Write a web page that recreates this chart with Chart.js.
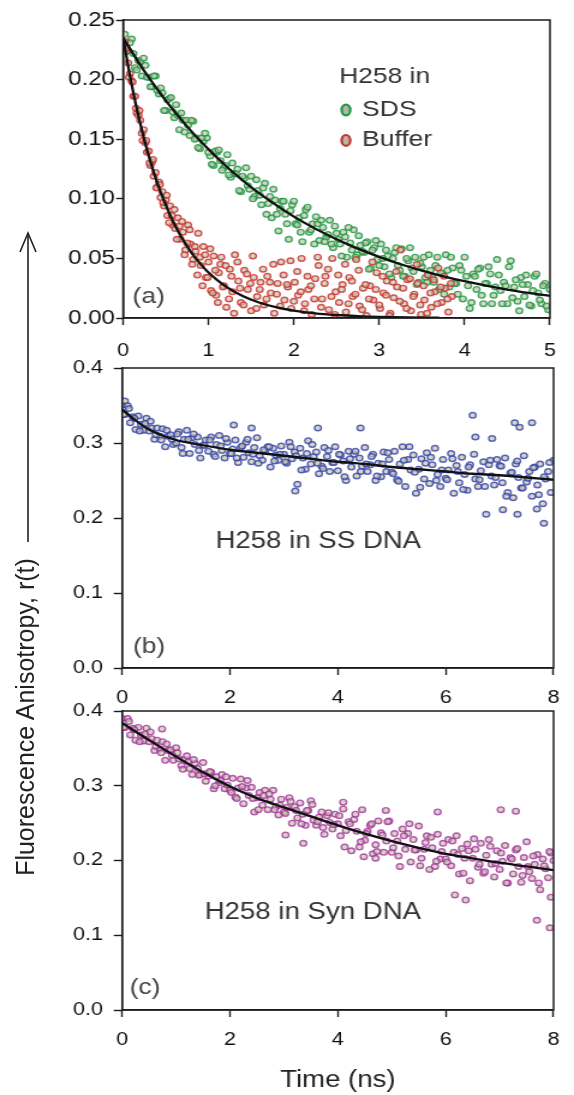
<!DOCTYPE html>
<html>
<head>
<meta charset="utf-8">
<title>H258 fluorescence anisotropy decays</title>
<script src="https://cdn.jsdelivr.net/npm/chart.js"></script>
<style>
    body { margin: 0; background: #fff; width: 574px; height: 1095px; position: relative; overflow: hidden; }
    canvas { position: absolute; left: 0; }
    #yTitle {
        position: absolute; left: 25px; top: 717px;
        transform: translate(-50%, -50%) rotate(-90deg);
        font: 25px 'Liberation Sans', Arial, sans-serif; color: #222; white-space: nowrap;
    }
    #arrow { position: absolute; left: 0; top: 0; }
</style>
</head>
<body>
<!-- canvases are drawn 478px wide and stretched to 574px, like the original figure -->
<canvas id="panelA" width="478" height="365" style="top:0;width:574px;height:365px"></canvas>
<canvas id="panelB" width="478" height="380" style="top:340px;width:574px;height:380px"></canvas>
<canvas id="panelC" width="478" height="405" style="top:690px;width:574px;height:405px"></canvas>
<svg id="arrow" width="60" height="560">
    <line x1="28" y1="542" x2="28" y2="233" stroke="#222" stroke-width="1.6"/>
    <polyline points="20,252 28,233 36,252" fill="none" stroke="#222" stroke-width="1.6"/>
</svg>
<div id="yTitle">Fluorescence Anisotropy, r(t)</div>
<script>
// ---- panel (a): H258 in SDS / Buffer, time (ns) vs r(t)
const sdsPoints = [
    [0.02,.238],[0.06,.224],[0.10,.234],[0.14,.210],[0.18,.216],[0.22,.203],[0.26,.212],[0.30,.202],[0.34,.194],[0.38,.203],
    [0.42,.188],[0.46,.189],[0.50,.174],[0.54,.184],[0.58,.173],[0.62,.179],[0.66,.158],[0.70,.166],[0.74,.166],[0.78,.153],
    [0.82,.165],[0.86,.151],[0.90,.142],[0.94,.148],[0.98,.151],[1.02,.136],[1.06,.128],[1.10,.139],[1.14,.132],[1.18,.126],
    [1.22,.137],[1.26,.118],[1.30,.121],[1.34,.125],[1.38,.106],[1.42,.117],[1.46,.111],[1.50,.119],[1.54,.102],[1.58,.107],
    [1.62,.095],[1.66,.113],[1.70,.096],[1.74,.084],[1.78,.099],[1.82,.073],[1.86,.098],[1.90,.087],[1.94,.066],[1.98,.095],
    [2.02,.079],[2.06,.084],[2.10,.064],[2.14,.091],[2.18,.072],[2.22,.079],[2.26,.085],[2.30,.065],[2.34,.076],[2.38,.068],
    [2.42,.082],[2.46,.059],[2.50,.071],[2.54,.062],[2.58,.072],[2.62,.051],[2.66,.063],[2.70,.074],[2.74,.053],[2.78,.061],
    [2.82,.055],[2.86,.064],[2.90,.042],[2.94,.059],[2.98,.049],[3.02,.062],[3.06,.043],[3.10,.052],[3.14,.034],[3.18,.055],
    [3.22,.044],[3.26,.058],[3.30,.035],[3.34,.048],[3.38,.042],[3.42,.051],[3.46,.030],[3.50,.043],[3.54,.034],[3.58,.053],
    [3.62,.034],[3.66,.044],[3.70,.024],[3.74,.037],[3.78,.053],[3.82,.026],[3.86,.042],[3.90,.029],[3.94,.044],[3.98,.016],
    [4.02,.035],[4.06,.008],[4.10,.037],[4.14,.024],[4.18,.042],[4.22,.012],[4.26,.029],[4.30,.037],[4.34,.019],[4.38,.049],
    [4.42,.023],[4.46,.030],[4.50,.012],[4.54,.048],[4.58,.026],[4.62,.014],[4.66,.034],[4.70,.018],[4.74,.028],[4.78,.010],
    [4.82,.035],[4.86,.021],[4.90,.012],[4.94,.029],[4.98,.007],
    [0.04,.226],[0.08,.231],[0.12,.222],[0.16,.208],[0.20,.215],[0.24,.218],[0.28,.202],[0.32,.194],[0.36,.203],[0.40,.191],
    [0.44,.193],[0.48,.174],[0.52,.183],[0.56,.185],[0.60,.168],[0.64,.170],[0.68,.172],[0.72,.156],[0.76,.162],[0.80,.166],
    [0.84,.150],[0.88,.143],[0.92,.151],[0.96,.155],[1.00,.139],[1.04,.129],[1.08,.140],[1.12,.141],[1.16,.124],[1.20,.128],
    [1.24,.120],[1.28,.130],[1.32,.121],[1.36,.107],[1.40,.119],[1.44,.126],[1.48,.108],[1.52,.100],[1.56,.116],[1.60,.103],
    [1.64,.109],[1.68,.087],[1.72,.102],[1.76,.108],[1.80,.087],[1.84,.092],[1.88,.098],[1.92,.079],[1.96,.090],[2.00,.098],
    [2.04,.078],[2.08,.072],[2.12,.086],[2.16,.093],[2.20,.074],[2.24,.062],[2.28,.079],[2.32,.082],[2.36,.064],[2.40,.070],
    [2.44,.062],[2.48,.077],[2.52,.066],[2.56,.052],[2.60,.068],[2.64,.076],[2.68,.057],[2.72,.051],[2.76,.069],[2.80,.056],
    [2.84,.063],[2.88,.041],[2.92,.057],[2.96,.065],[3.00,.044],[3.04,.050],[3.08,.057],[3.12,.037],[3.16,.050],[3.20,.059],
    [3.24,.040],[3.28,.035],[3.32,.050],[3.36,.059],[3.40,.039],[3.44,.028],[3.48,.046],[3.52,.051],[3.56,.030],[3.60,.040],
    [3.64,.030],[3.68,.051],[3.72,.038],[3.76,.020],[3.80,.040],[3.84,.051],[3.88,.029],[3.92,.020],[3.96,.040],[4.00,.051],
    [4.04,.027],[4.08,.013],[4.12,.035],[4.16,.041],[4.20,.019],[4.24,.029],[4.28,.043],[4.32,.012],[4.36,.026],[4.40,.036],
    [4.44,.012],[4.48,.027],[4.52,.043],[4.56,.017],[4.60,.032],[4.64,.006],[4.68,.028],[4.72,.036],[4.76,.011],[4.80,.023],
    [4.84,.037],[4.88,.015],[4.92,.027],[4.96,.010],[5.00,.024]
];
const bufferPoints = [
    [0.02,.232],[0.04,.224],[0.06,.214],[0.08,.205],[0.10,.199],[0.12,.186],[0.14,.186],[0.16,.172],[0.18,.170],[0.20,.166],
    [0.22,.155],[0.24,.158],[0.26,.147],[0.28,.139],[0.30,.140],[0.32,.128],[0.34,.131],[0.36,.119],[0.38,.122],[0.40,.110],
    [0.42,.114],[0.44,.101],[0.46,.106],[0.48,.094],[0.50,.099],[0.52,.086],[0.55,.094],[0.58,.078],[0.61,.075],[0.64,.084],
    [0.67,.066],[0.70,.072],[0.73,.057],[0.76,.078],[0.79,.062],[0.82,.049],[0.85,.056],[0.88,.071],[0.91,.044],[0.94,.060],
    [0.97,.034],[1.00,.047],[1.03,.023],[1.06,.052],[1.09,.019],[1.12,.038],[1.15,.051],[1.18,.027],[1.21,.009],[1.25,.041],
    [1.28,.022],[1.31,.053],[1.35,.031],[1.38,.013],[1.42,.040],[1.46,.024],[1.50,.006],[1.53,.034],[1.57,.018],[1.61,.030],
    [1.65,.011],[1.69,.035],[1.73,.021],[1.77,.004],[1.81,.029],[1.85,.047],[1.89,.015],[1.93,.026],[1.97,.008],[2.01,.030],
    [2.05,.019],[2.09,.050],[2.13,.012],[2.17,.024],[2.21,.003],[2.25,.033],[2.29,.044],[2.33,.016],[2.37,.035],[2.41,.007],
    [2.45,.050],[2.49,.022],[2.53,.013],[2.57,.028],[2.61,.005],[2.65,.034],[2.69,.018],[2.73,.049],[2.77,.010],[2.81,.025],
    [2.85,.002],[2.89,.027],[2.93,.015],[2.97,.038],[3.01,.008],[3.05,.021],[3.09,.031],[3.13,.004],[3.17,.017],[3.21,.026],
    [3.25,.057],[3.29,.012],[3.33,.032],[3.37,.006],[3.41,.020],[3.45,.029],[3.49,.003],[3.53,.015],[3.57,.036],[3.61,.009],
    [3.65,.022],[3.69,.042],[3.73,.013],[3.77,.025],[3.81,.005],[3.85,.018],
    [0.03,.226],[0.07,.202],[0.11,.198],[0.15,.176],[0.19,.174],[0.23,.149],[0.27,.149],[0.31,.130],[0.35,.133],[0.39,.109],
    [0.43,.112],[0.47,.097],[0.51,.103],[0.54,.080],[0.57,.086],[0.60,.091],[0.63,.066],[0.66,.077],[0.69,.081],[0.72,.053],
    [0.75,.063],[0.78,.074],[0.81,.045],[0.84,.060],[0.87,.036],[0.90,.051],[0.93,.027],[0.96,.053],[0.99,.034],[1.02,.058],
    [1.05,.021],[1.08,.040],[1.11,.013],[1.14,.045],[1.17,.026],[1.20,.044],[1.24,.016],[1.27,.035],[1.30,.004],[1.34,.047],
    [1.37,.025],[1.41,.011],[1.45,.037],[1.49,.029],[1.52,.052],[1.56,.008],[1.60,.024],[1.64,.041],[1.68,.016],[1.72,.030],
    [1.76,.045],[1.80,.020],[1.84,.010],[1.88,.036],[1.92,.028],[1.96,.048],[2.00,.014],[2.04,.039],[2.08,.022],[2.12,.006],
    [2.16,.035],[2.20,.027],[2.24,.016],[2.28,.051],[2.32,.009],[2.36,.029],[2.40,.041],[2.44,.018],[2.48,.003],[2.52,.036],
    [2.56,.024],[2.60,.045],[2.64,.012],[2.68,.031],[2.72,.020],[2.76,.040],[2.80,.007],[2.84,.028],[2.88,.016],[2.92,.047],
    [2.96,.024],[3.00,.011],[3.04,.035],[3.08,.019],[3.12,.002],[3.16,.030],[3.20,.039],[3.24,.014],[3.28,.025],[3.32,.008],
    [3.36,.033],[3.40,.018],[3.44,.045],[3.48,.011],[3.52,.027],[3.56,.004],[3.60,.021],[3.64,.032],[3.68,.012],[3.72,.026],
    [3.76,.035],[3.80,.016],[3.84,.029]
];
const sdsFit = [
    [0,.235],[.25,.207],[.5,.1823],[.75,.1606],[1,.1415],[1.25,.1246],[1.5,.1097],[1.75,.0967],[2,.0851],[2.25,.075],
    [2.5,.0661],[2.75,.0582],[3,.0513],[3.25,.0451],[3.5,.0398],[3.75,.035],[4,.0309],[4.25,.0272],[4.5,.0239],[4.75,.0211],[5,.0186]
];
const bufferFit = [
    [0,.235],[.1,.1959],[.2,.1634],[.3,.1362],[.4,.1135],[.5,.0947],[.6,.0789],[.7,.0658],[.8,.0549],[.9,.0458],[1,.0381],
    [1.2,.0265],[1.4,.0184],[1.6,.0128],[1.8,.0089],[2,.0062],[2.25,.0039],[2.5,.0025],[2.75,.0016],[3,.001],[3.35,.0005],[3.7,.0003]
];

// ---- panel (b): H258 in SS DNA
const ssDnaPoints = [
    [0.00,.351],[0.05,.338],[0.10,.350],[0.15,.327],[0.20,.335],[0.25,.318],[0.30,.336],[0.35,.325],[0.40,.317],[0.45,.333],
    [0.50,.316],[0.55,.320],[0.60,.305],[0.65,.320],[0.70,.309],[0.75,.319],[0.80,.295],[0.85,.309],[0.90,.311],[0.95,.298],
    [1.00,.300],[1.05,.315],[1.10,.294],[1.15,.305],[1.20,.317],[1.25,.286],[1.30,.307],[1.35,.298],[1.40,.308],[1.45,.280],
    [1.50,.297],[1.55,.304],[1.60,.289],[1.65,.308],[1.70,.285],[1.75,.298],[1.80,.310],[1.85,.290],[1.90,.280],[1.95,.301],
    [2.00,.286],[2.05,.292],[2.10,.304],[2.15,.274],[2.20,.294],[2.25,.281],[2.30,.301],[2.35,.287],[2.40,.275],[2.45,.294],
    [2.50,.307],[2.55,.283],[2.60,.277],[2.65,.289],[2.70,.295],[2.75,.268],[2.80,.293],[2.85,.284],[2.90,.277],[2.95,.296],
    [3.00,.285],[3.05,.273],[3.10,.301],[3.15,.279],[3.20,.288],[3.25,.245],[3.30,.293],[3.35,.280],[3.40,.265],[3.45,.303],
    [3.50,.272],[3.55,.282],[3.60,.288],[3.65,.259],[3.70,.269],[3.75,.294],[3.80,.282],[3.85,.262],[3.90,.274],[3.95,.295],
    [4.00,.263],[4.05,.284],[4.10,.276],[4.15,.250],[4.20,.289],[4.25,.268],[4.30,.285],[4.35,.256],[4.40,.280],[4.45,.269],
    [4.50,.294],[4.55,.262],[4.60,.271],[4.65,.285],[4.70,.250],[4.75,.273],[4.80,.255],[4.85,.288],[4.90,.262],[4.95,.278],
    [5.00,.261],[5.05,.289],[5.10,.251],[5.15,.272],[5.20,.295],[5.25,.242],[5.30,.278],[5.35,.264],[5.40,.284],[5.45,.233],
    [5.50,.265],[5.55,.279],[5.60,.252],[5.65,.287],[5.70,.246],[5.75,.271],[5.80,.293],[5.85,.258],[5.90,.242],[5.95,.278],
    [6.00,.253],[6.05,.264],[6.10,.286],[6.15,.233],[6.20,.270],[6.25,.247],[6.30,.281],[6.35,.258],[6.40,.237],[6.45,.271],
    [6.50,.337],[6.55,.252],[6.60,.242],[6.65,.263],[6.70,.275],[6.75,.205],[6.80,.271],[6.85,.256],[6.90,.244],[6.95,.278],
    [7.00,.270],[7.05,.247],[7.10,.280],[7.15,.234],[7.20,.260],[7.25,.227],[7.30,.272],[7.35,.254],[7.40,.240],[7.45,.283],
    [7.50,.248],[7.55,.262],[7.60,.229],[7.65,.268],[7.70,.244],[7.75,.272],[7.80,.219],[7.85,.252],[7.90,.262],[7.95,.234],
    [8.00,.277],
    [0.025,.338],[0.125,.346],[0.225,.333],[0.325,.316],[0.425,.326],[0.525,.329],[0.625,.311],[0.725,.304],[0.825,.317],[0.925,.305],
    [1.025,.312],[1.125,.286],[1.225,.305],[1.325,.312],[1.425,.290],[1.525,.297],[1.625,.304],[1.725,.282],[1.825,.296],[1.925,.306],
    [2.025,.286],[2.125,.280],[2.225,.296],[2.325,.305],[2.425,.285],[2.525,.273],[2.625,.291],[2.725,.295],[2.825,.276],[2.925,.285],
    [3.025,.275],[3.125,.295],[3.225,.283],[3.325,.264],[3.425,.286],[3.525,.298],[3.625,.273],[3.725,.266],[3.825,.290],[3.925,.274],
    [4.025,.285],[4.125,.255],[4.225,.279],[4.325,.289],[4.425,.262],[4.525,.272],[4.625,.282],[4.725,.256],[4.825,.272],[4.925,.287],
    [5.025,.259],[5.125,.249],[5.225,.277],[5.325,.295],[5.425,.261],[5.525,.241],[5.625,.273],[5.725,.281],[5.825,.250],[5.925,.264],
    [6.025,.251],[6.125,.279],[6.225,.262],[6.325,.238],[6.425,.268],[6.525,.285],[6.625,.251],[6.725,.242],[6.825,.277],[6.925,.254],
    [7.025,.269],[7.125,.229],[7.225,.261],[7.325,.276],[7.425,.240],[7.525,.253],[7.625,.267],[7.725,.231],[7.825,.255],[7.925,.274],
    [0.05,.356],[2.07,.324],[2.40,.320],[3.63,.320],[3.21,.236],[4.42,.320],[6.55,.308],[6.86,.306],[7.28,.327],[7.37,.321],
    [7.60,.327],[7.82,.193],[7.06,.211],[7.33,.205],[7.69,.212]
];
const ssDnaFit = [
    [0,.345],[.25,.330],[.5,.318],[.75,.310],[1,.304],[1.5,.297],[2,.291],[2.5,.287],[3,.283],[3.5,.279],
    [4,.275],[4.5,.272],[5,.268],[5.5,.265],[6,.262],[6.5,.259],[7,.257],[7.5,.254],[8,.251]
];

// ---- panel (c): H258 in Syn DNA
const synDnaPoints = [
    [0.00,.390],[0.05,.378],[0.10,.390],[0.15,.368],[0.20,.377],[0.25,.361],[0.30,.378],[0.35,.368],[0.40,.360],[0.45,.377],
    [0.50,.359],[0.55,.363],[0.60,.347],[0.65,.361],[0.70,.349],[0.75,.359],[0.80,.334],[0.85,.347],[0.90,.348],[0.95,.334],
    [1.00,.351],[1.05,.336],[1.10,.327],[1.15,.335],[1.20,.340],[1.25,.323],[1.30,.315],[1.35,.330],[1.40,.323],[1.45,.315],
    [1.50,.331],[1.55,.306],[1.60,.313],[1.65,.318],[1.70,.296],[1.75,.312],[1.80,.304],[1.85,.315],[1.90,.296],[1.95,.301],
    [2.00,.294],[2.05,.310],[2.10,.285],[2.15,.297],[2.20,.309],[2.25,.276],[2.30,.297],[2.35,.287],[2.40,.298],[2.45,.265],
    [2.50,.284],[2.55,.291],[2.60,.274],[2.65,.294],[2.70,.268],[2.75,.282],[2.80,.294],[2.85,.272],[2.90,.261],[2.95,.282],
    [3.00,.265],[3.05,.271],[3.10,.284],[3.15,.250],[3.20,.272],[3.25,.257],[3.30,.277],[3.35,.262],[3.40,.247],[3.45,.267],
    [3.50,.280],[3.55,.254],[3.60,.247],[3.65,.258],[3.70,.265],[3.75,.235],[3.80,.260],[3.85,.251],[3.90,.242],[3.95,.262],
    [4.00,.249],[4.05,.233],[4.10,.269],[4.15,.240],[4.20,.252],[4.25,.213],[4.30,.255],[4.35,.239],[4.40,.218],[4.45,.268],
    [4.50,.227],[4.55,.239],[4.60,.247],[4.65,.209],[4.70,.221],[4.75,.253],[4.80,.237],[4.85,.211],[4.90,.226],[4.95,.253],
    [5.00,.211],[5.05,.236],[5.10,.226],[5.15,.192],[5.20,.242],[5.25,.215],[5.30,.236],[5.35,.198],[5.40,.228],[5.45,.214],
    [5.50,.246],[5.55,.203],[5.60,.215],[5.65,.233],[5.70,.188],[5.75,.217],[5.80,.192],[5.85,.235],[5.90,.202],[5.95,.223],
    [6.00,.202],[6.05,.228],[6.10,.193],[6.15,.211],[6.20,.233],[6.25,.182],[6.30,.216],[6.35,.203],[6.40,.222],[6.45,.173],
    [6.50,.203],[6.55,.215],[6.60,.191],[6.65,.223],[6.70,.183],[6.75,.207],[6.80,.228],[6.85,.195],[6.90,.178],[6.95,.213],
    [7.00,.188],[7.05,.199],[7.10,.220],[7.15,.170],[7.20,.204],[7.25,.182],[7.30,.214],[7.35,.192],[7.40,.171],[7.45,.204],
    [7.50,.225],[7.55,.185],[7.60,.176],[7.65,.195],[7.70,.208],[7.75,.161],[7.80,.202],[7.85,.189],[7.90,.177],[7.95,.210],
    [8.00,.200],
    [0.025,.378],[0.125,.386],[0.225,.375],[0.325,.359],[0.425,.369],[0.525,.372],[0.625,.353],[0.725,.344],[0.825,.356],[0.925,.341],
    [1.025,.344],[1.125,.322],[1.225,.332],[1.325,.335],[1.425,.314],[1.525,.316],[1.625,.319],[1.725,.300],[1.825,.307],[1.925,.312],
    [2.025,.291],[2.125,.283],[2.225,.299],[2.325,.307],[2.425,.283],[2.525,.268],[2.625,.287],[2.725,.289],[2.825,.268],[2.925,.274],
    [3.025,.263],[3.125,.279],[3.225,.267],[3.325,.249],[3.425,.267],[3.525,.275],[3.625,.252],[3.725,.244],[3.825,.264],[3.925,.248],
    [4.025,.260],[4.125,.218],[4.225,.249],[4.325,.262],[4.425,.225],[4.525,.236],[4.625,.249],[4.725,.212],[4.825,.234],[4.925,.252],
    [5.025,.217],[5.125,.206],[5.225,.233],[5.325,.249],[5.425,.214],[5.525,.193],[5.625,.224],[5.725,.231],[5.825,.199],[5.925,.212],
    [6.025,.198],[6.125,.226],[6.225,.208],[6.325,.183],[6.425,.213],[6.525,.229],[6.625,.195],[6.725,.185],[6.825,.219],[6.925,.196],
    [7.025,.210],[7.125,.170],[7.225,.202],[7.325,.216],[7.425,.180],[7.525,.192],[7.625,.206],[7.725,.170],[7.825,.193],[7.925,.212],
    [0.74,.376],[4.89,.267],[5.85,.265],[7.02,.268],[7.30,.266],[4.10,.278],[6.17,.154],[6.37,.147],[7.69,.120],[7.93,.110],
    [7.95,.151],[4.48,.205],[4.70,.203],[3.36,.223],[3.03,.234]
];
const synDnaFit = [
    [0,.384],[.5,.361],[1,.339],[1.5,.318],[2,.299],[2.5,.2835],[3,.271],[3.5,.259],[4,.247],[4.5,.236],
    [5,.226],[5.5,.217],[6,.209],[6.5,.203],[7,.197],[7.5,.192],[8,.187]
];

const FONT = "'Liberation Sans', Arial, sans-serif";
const AXIS = '#1b1b1b';
const MARK_FILL = 'rgba(200,198,170,0.7)';

function toXY(pairs) {
    return pairs.map(p => ({ x: p[0], y: p[1] }));
}

function scatterSet(pairs, edge) {
    return {
        data: toXY(pairs),
        pointRadius: 2.8,
        pointBorderWidth: 1.4,
        pointBackgroundColor: MARK_FILL,
        pointBorderColor: edge,
        showLine: false,
        order: 2
    };
}

function fitSet(pairs) {
    return {
        data: toXY(pairs),
        showLine: true,
        borderColor: '#111',
        borderWidth: 2.3,
        pointRadius: 0,
        fill: false,
        cubicInterpolationMode: 'monotone',
        order: 1
    };
}

// frame round the plot area, panel letters, captions and the little legend
const notesPlugin = {
    id: 'notes',
    afterDatasetsDraw(chart, args, opts) {
        const { ctx, chartArea: a } = chart;
        const xs = chart.scales.x, ys = chart.scales.y;
        ctx.save();
        ctx.strokeStyle = AXIS;
        ctx.lineWidth = 1.5;
        ctx.strokeRect(a.left, a.top, a.right - a.left, a.bottom - a.top);
        ctx.textAlign = 'left';
        ctx.textBaseline = 'middle';
        (opts.texts || []).forEach(t => {
            ctx.font = t.size + 'px ' + FONT;
            ctx.fillStyle = t.color || '#333';
            ctx.fillText(t.text, xs.getPixelForValue(t.t), ys.getPixelForValue(t.r));
        });
        (opts.keys || []).forEach(k => {
            ctx.beginPath();
            ctx.ellipse(xs.getPixelForValue(k.t), ys.getPixelForValue(k.r), 3.6, 5.4, 0, 0, Math.PI * 2);
            ctx.fillStyle = '#b7b5a4';
            ctx.fill();
            ctx.lineWidth = 2.2;
            ctx.strokeStyle = k.color;
            ctx.stroke();
        });
        ctx.restore();
    }
};

function makePanel(id, datasets, cfg) {
    return new Chart(document.getElementById(id), {
        type: 'scatter',
        data: { datasets: datasets },
        plugins: [notesPlugin],
        options: {
            responsive: false,
            animation: false,
            layout: { padding: { top: cfg.padTop, right: cfg.padRight, left: 0, bottom: 0 } },
            plugins: {
                legend: { display: false },
                tooltip: { enabled: false },
                notes: { texts: cfg.texts, keys: cfg.keys || [] }
            },
            scales: {
                x: {
                    type: 'linear', min: 0, max: cfg.xMax,
                    afterFit: s => { s.height = cfg.xHeight; },
                    ticks: {
                        stepSize: cfg.xStep, autoSkip: false, maxRotation: 0,
                        color: '#111', padding: cfg.xPad, font: { family: FONT, size: 18 }
                    },
                    grid: { drawOnChartArea: false, tickLength: 7, color: AXIS, tickWidth: 1.4 },
                    border: { color: AXIS, width: 1.5 },
                    title: cfg.xTitle ? {
                        display: true, text: cfg.xTitle, color: '#222',
                        font: { family: FONT, size: 23 }, padding: { top: 0, bottom: 1 }
                    } : { display: false }
                },
                y: {
                    type: 'linear', min: 0, max: cfg.yMax,
                    afterFit: s => { s.width = cfg.yWidth; },
                    ticks: {
                        stepSize: cfg.yStep, autoSkip: false,
                        color: '#111', padding: cfg.yPad, font: { family: FONT, size: cfg.yFont },
                        callback: v => v.toFixed(cfg.yDigits)
                    },
                    grid: { drawOnChartArea: false, tickLength: cfg.yTick, color: AXIS, tickWidth: 1.4 },
                    border: { color: AXIS, width: 1.5 }
                }
            }
        }
    });
}

makePanel('panelA', [
    fitSet(sdsFit),
    fitSet(bufferFit),
    scatterSet(bufferPoints, 'rgba(200,45,45,0.8)'),
    scatterSet(sdsPoints, 'rgba(25,150,65,0.8)')
], {
    padTop: 20, padRight: 5.5, xHeight: 47, yWidth: 102.5,
    xMax: 5, xStep: 1, xPad: 15, yMax: 0.25, yStep: 0.05, yDigits: 2,
    yFont: 20, yTick: 5.8, yPad: 1,
    texts: [
        { text: '(a)', t: 0.11, r: 0.0176, size: 22, color: '#444' },
        { text: 'H258 in', t: 2.53, r: 0.202, size: 22 },
        { text: 'SDS', t: 2.80, r: 0.1745, size: 22 },
        { text: 'Buffer', t: 2.80, r: 0.149, size: 22 }
    ],
    keys: [
        { t: 2.61, r: 0.1745, color: '#1f9a4a' },
        { t: 2.61, r: 0.149, color: '#c83232' }
    ]
});

makePanel('panelB', [
    fitSet(ssDnaFit),
    scatterSet(ssDnaPoints, 'rgba(50,65,170,0.8)')
], {
    padTop: 28, padRight: 7.2, xHeight: 52, yWidth: 101.7,
    xMax: 8, xStep: 2, xPad: 12, yMax: 0.4, yStep: 0.1, yDigits: 1,
    yFont: 18, yTick: 7, yPad: 8.9,
    texts: [
        { text: '(b)', t: 0.2, r: 0.028, size: 22, color: '#444' },
        { text: 'H258 in SS DNA', t: 1.73, r: 0.169, size: 23 }
    ]
});

makePanel('panelC', [
    fitSet(synDnaFit),
    scatterSet(synDnaPoints, 'rgba(160,40,155,0.75)')
], {
    padTop: 21, padRight: 7.2, xHeight: 85, yWidth: 101.7,
    xMax: 8, xStep: 2, xPad: 12, yMax: 0.4, yStep: 0.1, yDigits: 1,
    yFont: 18, yTick: 7, yPad: 8.9, xTitle: 'Time (ns)',
    texts: [
        { text: '(c)', t: 0.14, r: 0.029, size: 22, color: '#444' },
        { text: 'H258 in Syn DNA', t: 1.53, r: 0.13, size: 23 }
    ]
});
</script>
</body>
</html>
